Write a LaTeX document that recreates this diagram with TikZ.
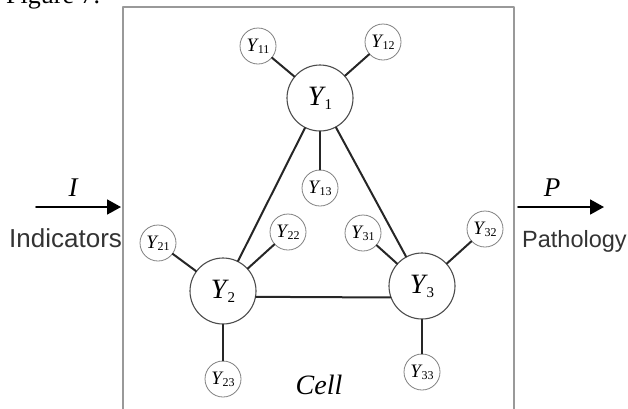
\documentclass[tikz,border=0pt]{standalone}
\usepackage{fontspec}
\setmainfont{Liberation Serif}
\newfontfamily\sansfont{Liberation Sans}
\usetikzlibrary{arrows.meta}
\newcommand{\bigY}[1]{{\fontsize{28}{28}\selectfont\textit{Y}}\kern-1.5pt\raisebox{-4pt}{\fontsize{15}{15}\selectfont #1}}
\newcommand{\smallY}[1]{{\fontsize{19}{19}\selectfont\textit{Y}}\kern-1pt\raisebox{-2pt}{\fontsize{12}{12}\selectfont #1}}

\begin{document}
\begin{tikzpicture}[x=1pt,y=-1pt,line cap=round,line join=round,
	main/.style={circle,draw=black!70,line width=1.1pt,minimum size=66pt,inner sep=0pt},
	sat/.style={circle,draw=black!50,line width=0.8pt,minimum size=36pt,inner sep=0pt},
	link/.style={line width=2pt,draw=black!85},
	flow/.style={line width=1.8pt,-{Triangle[length=14pt,width=15pt]}},
	sidetext/.style={font=\sansfont\fontsize{26}{26}\selectfont,text=black!80,inner sep=0pt},
	itext/.style={font=\fontsize{27}{27}\selectfont\itshape,inner sep=0pt}]
	\useasboundingbox (0,0) rectangle (628,408);
	\clip (0,0) rectangle (628,408);
	\node[anchor=base west,font=\fontsize{26}{26}\selectfont,inner sep=0pt] (fig) at (6,3) {Figure 7.};
	\draw[line width=1.3pt,draw=black!40] (123,420) -- (123,7) -- (514,7) -- (514,420);
	\node[main] (y1) at (320,98) {\bigY{1}};
	\node[main] (y2) at (223,291) {\bigY{2}};
	\node[main] (y3) at (422,286) {\bigY{3}};
	\node[sat] (y11) at (258,46) {\smallY{11}};
	\node[sat] (y12) at (383,42) {\smallY{12}};
	\node[sat] (y13) at (320,188) {\smallY{13}};
	\node[sat] (y21) at (158,243) {\smallY{21}};
	\node[sat] (y22) at (288,232) {\smallY{22}};
	\node[sat] (y23) at (223,379) {\smallY{23}};
	\node[sat] (y31) at (363,233) {\smallY{31}};
	\node[sat] (y32) at (485,229) {\smallY{32}};
	\node[sat] (y33) at (422,372) {\smallY{33}};
	\draw[link] (y1) -- (y2);
	\draw[link] (y1) -- (y3);
	\draw[link] (y2.-10) -- (y3.-160);
	\draw[link] (y11) -- (y1);
	\draw[link] (y12) -- (y1);
	\draw[link] (y13) -- (y1);
	\draw[link] (y21) -- (y2);
	\draw[link] (y22) -- (y2);
	\draw[link] (y23) -- (y2);
	\draw[link] (y31) -- (y3);
	\draw[link] (y32) -- (y3);
	\draw[link] (y33) -- (y3);
	\coordinate (in0) at (36,207);
	\coordinate (in1) at (121,207);
	\coordinate (out0) at (518,207);
	\coordinate (out1) at (604,207);
	\draw[flow] (in0) -- (in1);
	\draw[flow] (out0) -- (out1);
	\node[itext,anchor=base] (ilabel) at (73,196) {I};
	\node[itext,anchor=base] (plabel) at (552,196) {P};
	\node[sidetext,anchor=base west] (ind) at (9,247) {Indicators};
	\node[sidetext,anchor=base west,font=\sansfont\fontsize{23.5}{24}\selectfont] (path) at (522,247) {Pathology};
	\node[itext,anchor=base,font=\fontsize{28}{28}\selectfont\itshape] (cell) at (319,394) {Cell};
\end{tikzpicture}
\end{document}
